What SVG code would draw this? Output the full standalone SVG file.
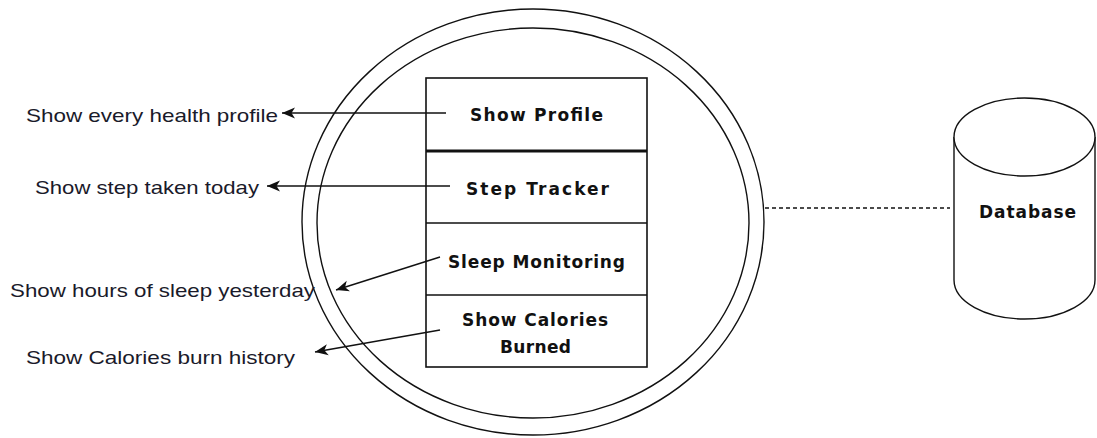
<svg xmlns="http://www.w3.org/2000/svg" width="1097" height="438" viewBox="0 0 1097 438">
<style>
.ring{fill:none;stroke:#111;stroke-width:1.4}
.box{fill:#fff;stroke:#111;stroke-width:1.6}
.lbl{font-family:"Liberation Sans",Arial,sans-serif;font-size:19px;fill:#1a1a2a}
.bt{font-family:"Comic Sans MS","DejaVu Sans",sans-serif;font-weight:bold;font-size:17px;fill:#111}
.arr{stroke:#111;stroke-width:1.4;fill:none;marker-end:url(#ah)}
.dash{stroke:#111;stroke-width:1.3;stroke-dasharray:4 3;fill:none}
</style>
<defs>
<marker id="ah" markerUnits="userSpaceOnUse" markerWidth="16" markerHeight="14" refX="13" refY="7" orient="auto">
<path d="M0,1.5 L13,7 L0,12.5 L3.5,7 Z" fill="#111"/>
</marker>
</defs>
<rect width="1097" height="438" fill="#fff"/>
<g id="system">
<ellipse class="ring" cx="533" cy="222" rx="231" ry="213"/>
<ellipse class="ring" cx="533" cy="223" rx="216" ry="195"/>
</g>
<g id="modules">
<rect class="box" x="426" y="78" width="221" height="289"/>
<line x1="426" y1="151" x2="647" y2="151" stroke="#111" stroke-width="3"/>
<line x1="426" y1="223" x2="647" y2="223" stroke="#111" stroke-width="1.6"/>
<line x1="426" y1="295" x2="647" y2="295" stroke="#111" stroke-width="1.6"/>
</g>
<g id="show-profile"><text class="bt" x="470" y="121" textLength="133" lengthAdjust="spacing">Show Profile</text></g>
<g id="step-tracker"><text class="bt" x="466" y="195" textLength="143" lengthAdjust="spacing">Step Tracker</text></g>
<g id="sleep-monitoring"><text class="bt" x="448" y="268" textLength="177" lengthAdjust="spacing">Sleep Monitoring</text></g>
<g id="show-calories"><text class="bt" x="462" y="326" textLength="146" lengthAdjust="spacing">Show Calories</text><text class="bt" x="500" y="353" textLength="71" lengthAdjust="spacing">Burned</text></g>
<g id="database">
<path d="M954,137 L954,280 A70.5,39 0 0 0 1095,280 L1095,137" fill="#fff" stroke="#111" stroke-width="1.4"/>
<ellipse cx="1024.5" cy="137" rx="70.5" ry="39" fill="#fff" stroke="#111" stroke-width="1.4"/>
<text class="bt" x="979" y="218" textLength="97" lengthAdjust="spacing">Database</text>
</g>
<g id="label-profile"><text class="lbl" x="26" y="122" textLength="252" lengthAdjust="spacingAndGlyphs">Show every health profile</text></g>
<g id="label-step"><text class="lbl" x="35" y="194" textLength="224" lengthAdjust="spacingAndGlyphs">Show step taken today</text></g>
<g id="label-sleep"><text class="lbl" x="10" y="297" textLength="305" lengthAdjust="spacingAndGlyphs">Show hours of sleep yesterday</text></g>
<g id="label-calories"><text class="lbl" x="26" y="364" textLength="269" lengthAdjust="spacingAndGlyphs">Show Calories burn history</text></g>
<g id="connectors">
<line class="arr" x1="446" y1="113" x2="282" y2="113"/>
<line class="arr" x1="450" y1="186" x2="267" y2="186"/>
<line class="arr" x1="440" y1="257" x2="336" y2="290"/>
<line class="arr" x1="440" y1="330" x2="315" y2="352"/>
<line class="dash" x1="765" y1="208" x2="950" y2="208"/>
</g>
</svg>
